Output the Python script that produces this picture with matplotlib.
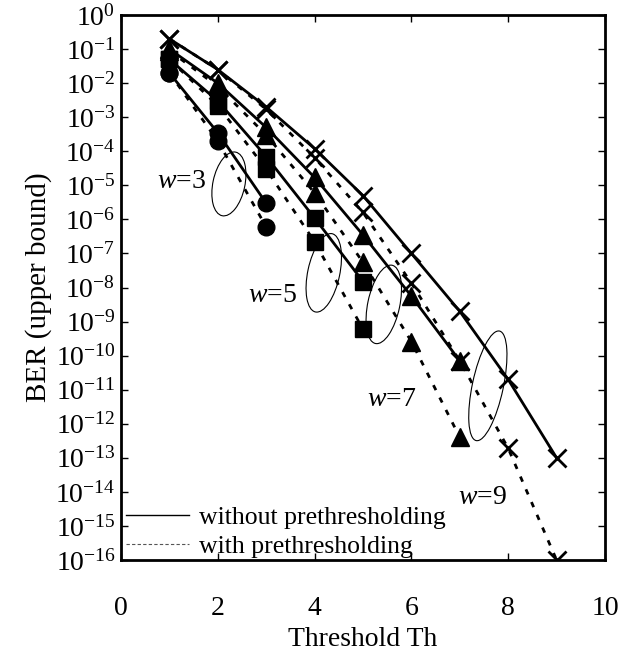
import matplotlib
matplotlib.use('Agg')
import matplotlib.pyplot as plt
import matplotlib.transforms as mtransforms
from matplotlib.patches import Ellipse
from matplotlib.lines import Line2D
from matplotlib.ticker import FixedLocator, NullLocator

plt.rcParams['font.family'] = ['Liberation Serif', 'DejaVu Serif']
plt.rcParams['mathtext.fontset'] = 'custom'
plt.rcParams['mathtext.rm'] = 'Liberation Serif'
plt.rcParams['mathtext.it'] = 'Liberation Serif:italic'

# BER upper bound vs threshold
th_w3 = [1, 2, 3]
w3_without = [2e-2, 3.5e-4, 3e-6]
w3_with = [2e-2, 2e-4, 6e-7]

th_w5 = [1, 2, 3, 4, 5]
w5_without = [5e-2, 3e-3, 7e-5, 1.1e-6, 1.5e-8]
w5_with = [5e-2, 2.2e-3, 3e-5, 2.2e-7, 6e-10]

th_w7 = [1, 2, 3, 4, 5, 6, 7]
w7_without = [1e-1, 1e-2, 5e-4, 1.7e-5, 3.5e-7, 5.6e-9, 7e-11]
w7_with = [9e-2, 8e-3, 3e-4, 6e-6, 5.5e-8, 2.6e-10, 4e-13]

th_w9 = [1, 2, 3, 4, 5, 6, 7, 8, 9]
w9_without = [2e-1, 2.5e-2, 2e-3, 1.2e-4, 5e-6, 1e-7, 2e-9, 2e-11, 1e-13]
w9_with = [2e-1, 2.5e-2, 1.7e-3, 6.5e-5, 1.6e-6, 1.35e-8, 7e-11, 1.9e-13, 1e-16]

x_ticks = [0, 2, 4, 6, 8, 10]
y_exponents = list(range(0, -17, -1))

series = [
    (th_w3, w3_without, w3_with, 'o', 12),
    (th_w5, w5_without, w5_with, 's', 11.5),
    (th_w7, w7_without, w7_with, '^', 12.5),
    (th_w9, w9_without, w9_with, 'x', 13),
]

fig = plt.figure(figsize=(6.21, 6.59), dpi=100)
ax = fig.add_axes([0.1948, 0.1502, 0.7794, 0.827])
ax.set_yscale('log')

for th, v_without, v_with, mk, ms in series:
    ax.plot(th, v_without, '-', color='black', lw=2, marker=mk, ms=ms,
            mew=2 if mk == 'x' else 1, mfc='black', mec='black')
    ax.plot(th, v_with, color='black', lw=2, ls=(0, (2, 3)), marker=mk, ms=ms,
            mew=2 if mk == 'x' else 1, mfc='black', mec='black')

# loops marking each w pair (center in data coords, size in inches)
loops = [(2.23, 1.1e-5, 0.32, 0.65), (4.19, 2.7e-8, 0.32, 0.80),
         (5.43, 3.2e-9, 0.32, 0.80), (7.58, 1.3e-11, 0.31, 1.12)]
for cx, cy, w, h in loops:
    trans = fig.dpi_scale_trans + mtransforms.ScaledTranslation(cx, cy, ax.transData)
    ax.add_patch(Ellipse((0, 0), w, h, angle=-12, fill=False, lw=0.8,
                         ec='black', transform=trans, clip_on=False))

labels = [(1.26, 10**-4.89, '3'), (3.14, 10**-8.22, '5'),
          (5.6, 10**-11.28, '7'), (7.46, 10**-14.17, '9')]
for lx, ly, s in labels:
    ax.text(lx, ly, r'$\mathit{w}$=' + s, fontsize=20, ha='center', va='center')

ax.set_xlim(0, 10)
ax.set_ylim(1e-16, 1)
ax.set_xticks(x_ticks)
ax.set_xticklabels([str(t) for t in x_ticks], fontsize=20)
ax.yaxis.set_major_locator(FixedLocator([10.0**e for e in y_exponents]))
ax.yaxis.set_minor_locator(NullLocator())
ax.set_yticklabels([r'$10^{%d}$' % e for e in y_exponents], fontsize=20)
ax.tick_params(direction='in', length=5, width=1, top=True, right=True, pad=4)
ax.tick_params(axis='x', pad=26)
for sp in ax.spines.values():
    sp.set_linewidth(2)

ax.set_xlabel('Threshold Th', fontsize=20, labelpad=4)
ax.set_ylabel('BER (upper bound)', fontsize=21, labelpad=2)

handles = [Line2D([], [], color='black', lw=1),
           Line2D([], [], color='#555555', lw=0.8, ls=(0, (3, 2)))]
ax.legend(handles, ['without prethresholding', 'with prethresholding'],
          loc='lower left', frameon=False, fontsize=18.5, handlelength=2.45,
          handletextpad=0.4, labelspacing=0.25, borderaxespad=0.1,
          bbox_to_anchor=(-0.016, -0.02))

fig.savefig('out.png', dpi=100)
